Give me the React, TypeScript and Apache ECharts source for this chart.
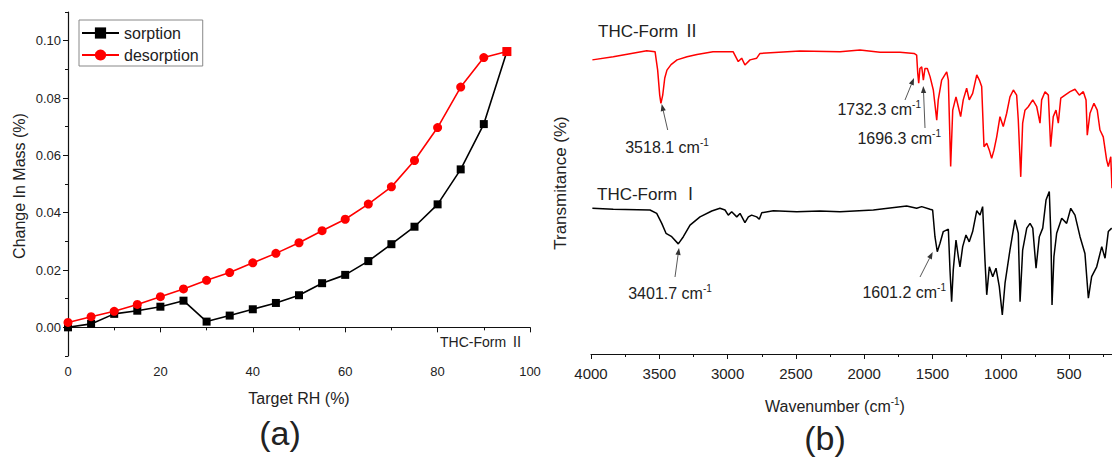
import React, { useEffect, useRef } from "react";
import * as echarts from "echarts";

// ---------- Panel (a): DVS data ----------
const rh = [0, 5, 10, 15, 20, 25, 30, 35, 40, 45, 50, 55, 60, 65, 70, 75, 80, 85, 90, 95];
const sorption = [0.0, 0.0012, 0.0047, 0.0058, 0.0072, 0.0093, 0.002, 0.0041, 0.0063, 0.0085, 0.0112, 0.0154, 0.0183, 0.0231, 0.029, 0.0351, 0.0429, 0.0551, 0.0709, 0.0962];
const desorption = [0.0017, 0.0037, 0.0056, 0.008, 0.0107, 0.0134, 0.0164, 0.0191, 0.0225, 0.0258, 0.0295, 0.0337, 0.0377, 0.043, 0.049, 0.0582, 0.0697, 0.0838, 0.0941, 0.0962];
const yMajorTicks = [0, 0.02, 0.04, 0.06, 0.08, 0.1];
const yMinorTicks = [-0.01, 0.01, 0.03, 0.05, 0.07, 0.09, 0.11];

// ---------- Panel (b): IR spectra [wavenumber, transmittance] ----------
const formII: [number, number][] = [
  [3990, 86.0], [3837, 86.9], [3592, 88.7], [3531, 88.4], [3512, 83.0], [3497, 75.7], [3488, 73.3],
  [3475, 75.7], [3460, 80.7], [3444, 83.0], [3414, 84.6], [3370, 86.0], [3297, 86.9], [3224, 87.6],
  [3107, 88.4], [2960, 88.4], [2922, 85.5], [2897, 86.5], [2873, 84.5], [2836, 86.0], [2787, 86.5],
  [2763, 87.9], [2470, 88.6], [2177, 88.4], [2031, 88.9], [1884, 88.2], [1738, 88.2], [1635, 87.9],
  [1616, 87.4], [1608, 82.1], [1601, 79.2], [1592, 83.5], [1579, 84.0], [1567, 80.1], [1555, 83.5],
  [1538, 83.5], [1518, 81.1], [1494, 77.2], [1469, 68.4], [1458, 74.3], [1433, 80.1], [1396, 82.5],
  [1384, 80.1], [1367, 54.8], [1352, 71.3], [1328, 75.2], [1311, 72.3], [1294, 69.4], [1275, 74.3],
  [1250, 77.7], [1231, 74.3], [1206, 76.2], [1176, 81.6], [1157, 80.1], [1140, 78.2], [1123, 60.6],
  [1103, 61.6], [1084, 59.6], [1067, 57.2], [1050, 59.6], [1030, 63.5], [1006, 69.4], [982, 66.5],
  [957, 70.4], [933, 75.2], [908, 77.2], [884, 75.7], [872, 68.4], [854, 51.8], [840, 67.5],
  [823, 71.3], [799, 72.3], [766, 74.3], [737, 72.3], [713, 67.5], [701, 74.3], [676, 76.7],
  [652, 75.7], [635, 60.6], [616, 69.4], [596, 71.3], [579, 67.5], [561, 74.8], [530, 75.7],
  [493, 76.7], [457, 77.4], [425, 75.7], [396, 76.7], [376, 74.3], [367, 64.0], [347, 70.4],
  [318, 73.3], [294, 71.3], [274, 65.5], [250, 63.5], [225, 56.7], [213, 54.8], [195, 57.7], [186, 48.5],
];
const formI: [number, number][] = [
  [3990, 42.6], [3837, 42.3], [3568, 42.1], [3519, 41.1], [3482, 38.2], [3451, 35.3], [3409, 34.3],
  [3361, 32.2], [3324, 34.3], [3275, 37.7], [3202, 40.1], [3116, 41.8], [3056, 42.6], [3019, 42.1],
  [2995, 40.6], [2970, 41.6], [2933, 40.1], [2909, 41.1], [2873, 38.4], [2848, 40.1], [2824, 40.6],
  [2787, 40.1], [2768, 39.4], [2750, 41.3], [2665, 41.9], [2494, 41.6], [2324, 41.8], [2177, 41.6],
  [1933, 42.1], [1689, 43.3], [1616, 42.6], [1579, 43.1], [1518, 42.3], [1499, 42.1], [1482, 34.3],
  [1465, 29.9], [1445, 32.4], [1421, 35.8], [1384, 36.5], [1372, 24.6], [1360, 15.3], [1348, 24.6],
  [1328, 33.3], [1311, 28.5], [1299, 25.5], [1279, 31.4], [1255, 34.8], [1231, 32.8], [1206, 35.8],
  [1176, 41.9], [1152, 40.6], [1133, 43.1], [1116, 27.5], [1103, 17.3], [1084, 25.5], [1059, 22.6],
  [1035, 25.1], [1011, 19.7], [989, 11.4], [969, 20.7], [933, 30.4], [896, 39.2], [872, 35.3],
  [859, 15.3], [840, 30.4], [810, 36.8], [786, 38.2], [766, 36.8], [742, 25.1], [718, 34.3],
  [693, 36.8], [669, 45.0], [645, 47.5], [633, 34.3], [625, 14.3], [611, 28.5], [591, 35.3],
  [554, 39.7], [518, 38.2], [488, 42.6], [457, 40.6], [420, 34.3], [384, 29.4], [359, 16.3],
  [335, 22.6], [298, 25.5], [261, 31.4], [237, 28.0], [213, 35.8], [188, 36.8],
];

const FONT = 'Arial, "Liberation Sans", "Noto Sans CJK SC", sans-serif';
const TXT = "#222";

function arrow(x1: number, y1: number, x2: number, y2: number) {
  const dx = x2 - x1, dy = y2 - y1;
  const L = Math.hypot(dx, dy);
  const ux = dx / L, uy = dy / L;
  const hl = 7, hw = 2.6;
  const bx = x2 - ux * hl, by = y2 - uy * hl;
  return [
    { type: "line", shape: { x1, y1, x2: bx, y2: by }, style: { stroke: "#444", lineWidth: 0.9 } },
    {
      type: "polygon",
      shape: { points: [[x2, y2], [bx - uy * hw, by + ux * hw], [bx + uy * hw, by - ux * hw]] },
      style: { fill: "#333" },
    },
  ];
}

function supText(x: number, y: number, main: string, align: string, size = 16) {
  return {
    type: "text",
    x,
    y,
    style: {
      text: `{a|${main}}{s|-1}`,
      align,
      verticalAlign: "middle",
      rich: {
        a: { fontSize: size, fontFamily: FONT, fill: TXT, lineHeight: size + 2, verticalAlign: "bottom" },
        s: { fontSize: 10, fontFamily: FONT, fill: TXT, lineHeight: 11, verticalAlign: "top" },
      },
    },
  };
}

function plainText(x: number, y: number, text: string, size: number, align = "center", rotation = 0) {
  return {
    type: "text",
    x,
    y,
    rotation,
    style: { text, fontSize: size, fontFamily: FONT, fill: TXT, align, verticalAlign: "middle" },
  };
}

export default function App() {
  const ref = useRef<HTMLDivElement>(null);
  useEffect(() => {
    if (!ref.current) return;
    const chart = echarts.init(ref.current, undefined, { renderer: "svg" });
    const axisLine = { show: true, lineStyle: { color: "#111", width: 1.2 } };
    const option: any = {
      animation: false,
      backgroundColor: "#fff",
      grid: [
        { left: 68, right: 582, top: 12, bottom: 103, outerBoundsMode: "none", containLabel: false },
        { left: 591, right: -25.4, top: 12, bottom: 105, outerBoundsMode: "none", containLabel: false },
      ],
      legend: {
        left: 79,
        top: 20,
        orient: "vertical",
        data: ["sorption", "desorption"],
        borderColor: "#888",
        borderWidth: 1,
        padding: [5, 4, 3, 2],
        itemWidth: 37,
        itemHeight: 14,
        itemGap: 6,
        textStyle: { fontSize: 16, fontFamily: FONT, color: TXT },
      },
      xAxis: [
        {
          type: "value",
          gridIndex: 0,
          min: 0,
          max: 100,
          interval: 20,
          axisLine,
          axisTick: { show: true, length: 5, lineStyle: { color: "#111" } },
          minorTick: { show: true, splitNumber: 2, length: 3, lineStyle: { color: "#111" } },
          splitLine: { show: false },
          axisLabel: { fontSize: 13, fontFamily: FONT, color: TXT, margin: 9 },
        },
        {
          type: "value",
          gridIndex: 1,
          min: 0,
          max: 4000,
          interval: 500,
          inverse: true,
          axisLine,
          axisTick: { show: true, length: 5, lineStyle: { color: "#111" } },
          minorTick: { show: true, splitNumber: 2, length: 3, lineStyle: { color: "#111" } },
          splitLine: { show: false },
          axisLabel: {
            fontSize: 15,
            fontFamily: FONT,
            color: TXT,
            margin: 12,
            formatter: (v: number) => (v === 0 ? "" : String(v)),
          },
        },
      ],
      yAxis: [
        {
          type: "value",
          gridIndex: 0,
          min: -0.01,
          max: 0.11,
          axisLine,
          axisTick: { show: true, length: 5, customValues: yMajorTicks, lineStyle: { color: "#111" } },
          splitLine: { show: false },
          axisLabel: {
            fontSize: 13,
            fontFamily: FONT,
            color: TXT,
            margin: 7,
            customValues: yMajorTicks,
            formatter: (v: number) => v.toFixed(2),
          },
        },
        {
          type: "value",
          gridIndex: 0,
          min: -0.01,
          max: 0.11,
          position: "left",
          axisLine: { show: false },
          axisTick: { show: true, length: 3, customValues: yMinorTicks, lineStyle: { color: "#111" } },
          splitLine: { show: false },
          axisLabel: { show: false, customValues: yMinorTicks },
        },
        {
          type: "value",
          gridIndex: 1,
          min: 0,
          max: 100,
          axisLine,
          axisTick: { show: false },
          splitLine: { show: false },
          axisLabel: { show: false },
        },
      ],
      series: [
        {
          name: "sorption",
          type: "line",
          xAxisIndex: 0,
          yAxisIndex: 0,
          data: rh.map((x, i) => [x, sorption[i]]),
          symbol: "rect",
          symbolSize: 8,
          itemStyle: { color: "#000" },
          lineStyle: { color: "#000", width: 1.6 },
        },
        {
          name: "desorption",
          type: "line",
          xAxisIndex: 0,
          yAxisIndex: 0,
          data: rh.map((x, i) => [x, desorption[i]]),
          symbol: (v: number[]) => (v[0] === 95 ? "rect" : "circle"),
          symbolSize: 9,
          itemStyle: { color: "#ff0000" },
          lineStyle: { color: "#ff0000", width: 1.6 },
        },
        {
          name: "THC-Form II",
          type: "line",
          xAxisIndex: 1,
          yAxisIndex: 2,
          data: formII,
          showSymbol: false,
          symbol: "none",
          lineStyle: { color: "#ff0000", width: 1.5 },
        },
        {
          name: "THC-Form I",
          type: "line",
          xAxisIndex: 1,
          yAxisIndex: 2,
          data: formI,
          showSymbol: false,
          symbol: "none",
          lineStyle: { color: "#000", width: 1.5 },
        },
      ],
      graphic: [
        plainText(19, 186, "Change In Mass (%)", 16, "center", Math.PI / 2),
        plainText(299, 398, "Target RH (%)", 16),
        plainText(280, 433, "(a)", 34),
        plainText(440, 342, "THC-Form Ⅱ", 14, "left"),
        plainText(560, 183, "Transmitance (%)", 17, "center", Math.PI / 2),
        {
          type: "text",
          x: 835,
          y: 405,
          style: {
            text: "{a|Wavenumber (cm}{s|-1}{a|)}",
            align: "center",
            verticalAlign: "middle",
            rich: {
              a: { fontSize: 16, fontFamily: FONT, fill: TXT, lineHeight: 18, verticalAlign: "bottom" },
              s: { fontSize: 10, fontFamily: FONT, fill: TXT, lineHeight: 11, verticalAlign: "top" },
            },
          },
        },
        plainText(825, 438, "(b)", 34),
        plainText(598, 31, "THC-Form Ⅱ", 17, "left"),
        plainText(597, 194, "THC-Form Ⅰ", 17, "left"),
        supText(667, 146, "3518.1 cm", "center"),
        supText(921, 108, "1732.3 cm", "right"),
        supText(941, 137, "1696.3 cm", "right"),
        supText(670, 292, "3401.7 cm", "center"),
        supText(946, 291, "1601.2 cm", "right"),
        ...arrow(667.7, 130, 661.7, 104),
        ...arrow(905, 100, 914, 78),
        ...arrow(925, 128, 923.3, 86),
        ...arrow(675, 277, 679, 248),
        ...arrow(920, 277, 932.7, 252),
      ],
    };
    chart.setOption(option);
    return () => chart.dispose();
  }, []);
  return (
    <div
      ref={ref}
      style={{ position: "fixed", left: 0, top: 0, width: 1112, height: 459, background: "#fff" }}
    />
  );
}
